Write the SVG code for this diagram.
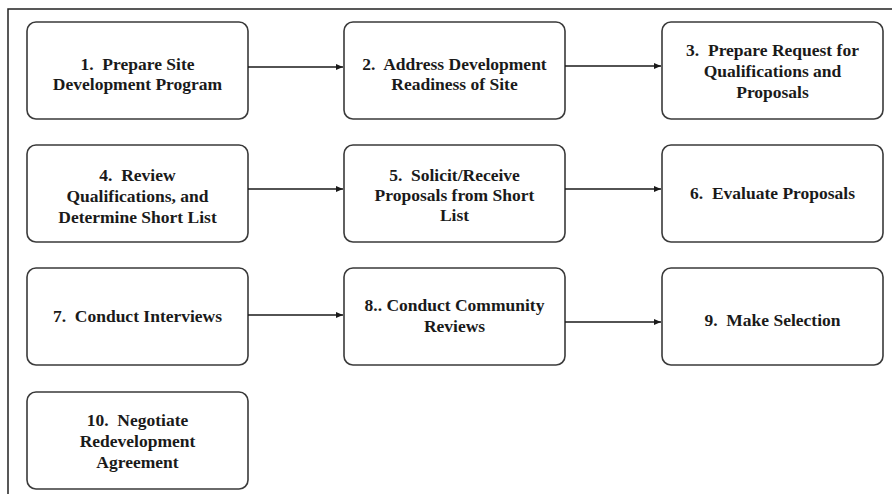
<svg xmlns="http://www.w3.org/2000/svg" width="892" height="494" viewBox="0 0 892 494">
<defs>
<style>
.box{fill:#fff;stroke:#3a3a3a;stroke-width:1.6}
.t{font-family:'Liberation Serif','Times New Roman',Times,serif;font-weight:bold;font-size:17.5px;fill:#1a1a1a;text-anchor:middle;white-space:pre}
.c{stroke:#1a1a1a;stroke-width:1.6;fill:none;marker-end:url(#ah)}
.frame{stroke:#222;stroke-width:1.5;fill:none}
</style>
<marker id="ah" markerWidth="8" markerHeight="8" refX="7" refY="4" orient="auto" markerUnits="userSpaceOnUse">
<path d="M0,1 L7,4 L0,7 Z" fill="#1a1a1a"/>
</marker>
</defs>
<rect width="892" height="494" fill="#fff"/>
<path class="frame" d="M8,494 V9 H892"/>
<g font-family="Liberation Serif, serif" xml:space="preserve">
<g id="n1"><rect class="box" x="27" y="22" width="221" height="97" rx="9"/>
<text class="t" x="137.5" y="70">1.  Prepare Site</text><text class="t" x="137.5" y="90">Development Program</text></g>
<g id="n2"><rect class="box" x="344" y="22" width="221" height="97" rx="9"/>
<text class="t" x="454.5" y="70">2.  Address Development</text><text class="t" x="454.5" y="90">Readiness of Site</text></g>
<g id="n3"><rect class="box" x="662" y="22" width="221" height="97" rx="9"/>
<text class="t" x="772.5" y="56">3.  Prepare Request for</text><text class="t" x="772.5" y="77">Qualifications and</text><text class="t" x="772.5" y="98">Proposals</text></g>
<g id="n4"><rect class="box" x="27" y="145" width="221" height="97" rx="9"/>
<text class="t" x="137.5" y="181">4.  Review</text><text class="t" x="137.5" y="202">Qualifications, and</text><text class="t" x="137.5" y="223">Determine Short List</text></g>
<g id="n5"><rect class="box" x="344" y="145" width="221" height="97" rx="9"/>
<text class="t" x="454.5" y="181">5.  Solicit/Receive</text><text class="t" x="454.5" y="201">Proposals from Short</text><text class="t" x="454.5" y="221">List</text></g>
<g id="n6"><rect class="box" x="662" y="145" width="221" height="97" rx="9"/>
<text class="t" x="772.5" y="199">6.  Evaluate Proposals</text></g>
<g id="n7"><rect class="box" x="27" y="268" width="221" height="97" rx="9"/>
<text class="t" x="137.5" y="322">7.  Conduct Interviews</text></g>
<g id="n8"><rect class="box" x="344" y="268" width="221" height="97" rx="9"/>
<text class="t" x="454.5" y="311">8.. Conduct Community</text><text class="t" x="454.5" y="332">Reviews</text></g>
<g id="n9"><rect class="box" x="662" y="268" width="221" height="97" rx="9"/>
<text class="t" x="772.5" y="326">9.  Make Selection</text></g>
<g id="n10"><rect class="box" x="27" y="392" width="221" height="97" rx="9"/>
<text class="t" x="137.5" y="426">10.  Negotiate</text><text class="t" x="137.5" y="447">Redevelopment</text><text class="t" x="137.5" y="468">Agreement</text></g>
</g>
<g id="connectors">
<line class="c" x1="248" y1="67" x2="343" y2="67"/>
<line class="c" x1="565" y1="66" x2="661" y2="66"/>
<line class="c" x1="248" y1="189" x2="343" y2="189"/>
<line class="c" x1="565" y1="189" x2="661" y2="189"/>
<line class="c" x1="248" y1="315" x2="343" y2="315"/>
<line class="c" x1="565" y1="322" x2="661" y2="322"/>
</g>
</svg>
